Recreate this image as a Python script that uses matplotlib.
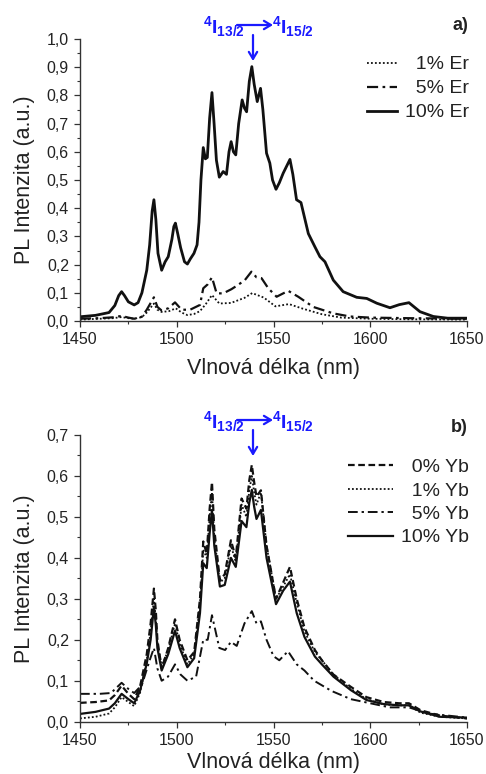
import matplotlib
matplotlib.use("Agg")
import matplotlib.pyplot as plt
from matplotlib.ticker import MultipleLocator, FuncFormatter

plt.rcParams['font.family'] = ['Liberation Sans', 'DejaVu Sans']
plt.rcParams['mathtext.fontset'] = 'custom'
plt.rcParams['mathtext.rm'] = 'Liberation Sans'
plt.rcParams['mathtext.bf'] = 'Liberation Sans:bold'

# ---------------- Panel a) data ----------------
wl_a10 = [1450, 1458, 1465, 1468, 1470, 1471.5, 1473, 1475, 1478, 1480,
          1482, 1484.5, 1486, 1487.3, 1488.2, 1489.2, 1490.3, 1492.2, 1494, 1495.6,
          1497.5, 1498.5, 1499.3, 1500.5, 1502, 1504, 1505.5, 1507, 1508.9, 1510.5,
          1511.5, 1512.5, 1513.7, 1514.8, 1515.8, 1517, 1518.2, 1519.3, 1520.5, 1522,
          1524, 1525.7, 1527, 1528.1, 1529.3, 1530.5, 1532, 1533.8, 1535, 1536.1,
          1537.5, 1538.8, 1540, 1541.6, 1543.3, 1544.5, 1546.4, 1548.1, 1549.5, 1551.3,
          1553, 1555, 1558.5, 1560, 1561.9, 1564.2, 1568, 1571.4, 1574, 1576.6,
          1580.9, 1586, 1593, 1598.2, 1603.4, 1610.2, 1615, 1620, 1625.7, 1632.6,
          1640, 1650]
er10 = [0.015, 0.02, 0.03, 0.055, 0.09, 0.104, 0.09, 0.068, 0.057, 0.065,
        0.1, 0.18, 0.27, 0.39, 0.43, 0.36, 0.24, 0.18, 0.21, 0.228,
        0.29, 0.335, 0.347, 0.31, 0.26, 0.21, 0.202, 0.22, 0.24, 0.27,
        0.35, 0.5, 0.615, 0.575, 0.58, 0.72, 0.81, 0.7, 0.57, 0.51,
        0.53, 0.52, 0.6, 0.636, 0.6, 0.589, 0.7, 0.784, 0.755, 0.742,
        0.85, 0.902, 0.84, 0.778, 0.825, 0.75, 0.595, 0.56, 0.5, 0.467,
        0.49, 0.524, 0.573, 0.52, 0.43, 0.42, 0.31, 0.263, 0.228, 0.21,
        0.145, 0.104, 0.084, 0.08, 0.063, 0.047, 0.058, 0.065, 0.033, 0.016,
        0.01, 0.01]

wl_a5 = [1450, 1460, 1467, 1471.5, 1475, 1478, 1482, 1484.5, 1488.2, 1490,
         1492.2, 1495.6, 1499.1, 1502.5, 1506.9, 1512, 1513.7, 1516, 1518.2, 1520.6,
         1524, 1528.3, 1531.7, 1535.2, 1538.6, 1541.2, 1543.8, 1547.3, 1551.6, 1557.6,
         1562.8, 1570.5, 1580.9, 1589.5, 1600, 1620, 1650]
er5 = [0.008, 0.01, 0.013, 0.018, 0.012, 0.008, 0.015, 0.04, 0.084, 0.05,
       0.037, 0.045, 0.066, 0.04, 0.04, 0.057, 0.116, 0.13, 0.155, 0.098,
       0.098, 0.113, 0.128, 0.145, 0.175, 0.155, 0.152, 0.116, 0.086, 0.107,
       0.086, 0.05, 0.027, 0.016, 0.012, 0.01, 0.008]

wl_a1 = [1450, 1460, 1467, 1471.5, 1475, 1478, 1482, 1484.5, 1488.2, 1490,
         1492.2, 1496, 1499.5, 1502.5, 1505.5, 1509, 1512, 1515, 1518.2, 1522,
         1528, 1535, 1539, 1545, 1551, 1558, 1565, 1575, 1585, 1600,
         1620, 1650]
er1 = [0.005, 0.008, 0.01, 0.014, 0.01, 0.008, 0.014, 0.03, 0.062, 0.04,
       0.032, 0.035, 0.045, 0.03, 0.021, 0.025, 0.035, 0.06, 0.092, 0.062,
       0.064, 0.082, 0.099, 0.083, 0.052, 0.06, 0.044, 0.024, 0.012, 0.008,
       0.006, 0.005]

# ---------------- Panel b) data ----------------
wl_b = [1450, 1458, 1465, 1468, 1471.5, 1475, 1478, 1481, 1484.5, 1486.5,
        1488.2, 1489.2, 1490, 1492.2, 1495.6, 1499.1, 1501.5, 1505.5, 1509, 1512,
        1513.7, 1515.5, 1517, 1518.2, 1519.4, 1522.3, 1524.8, 1528, 1530.5, 1533.5,
        1536, 1537.5, 1538.8, 1540, 1541.2, 1543.5, 1546.4, 1551.3, 1555, 1558.5,
        1562, 1566, 1571.4, 1575, 1581, 1590, 1598, 1607, 1615, 1620,
        1626, 1636, 1650]
yb0 = [0.046, 0.048, 0.052, 0.065, 0.088, 0.068, 0.055, 0.085, 0.165, 0.24,
       0.325, 0.27, 0.2, 0.13, 0.18, 0.25, 0.2, 0.15, 0.17, 0.3,
       0.44, 0.41, 0.52, 0.585, 0.47, 0.345, 0.36, 0.443, 0.4, 0.545,
       0.52, 0.59, 0.627, 0.585, 0.55, 0.565, 0.43, 0.3, 0.34, 0.378,
       0.3, 0.23, 0.175, 0.15, 0.115, 0.085, 0.06, 0.048, 0.045, 0.045,
       0.028, 0.015, 0.008]
yb1 = [0.008, 0.012, 0.02, 0.035, 0.06, 0.048, 0.038, 0.07, 0.15, 0.22,
       0.3, 0.25, 0.19, 0.135, 0.175, 0.24, 0.19, 0.14, 0.165, 0.285,
       0.42, 0.4, 0.5, 0.56, 0.45, 0.34, 0.35, 0.43, 0.39, 0.53,
       0.5, 0.565, 0.6, 0.56, 0.53, 0.56, 0.43, 0.3, 0.33, 0.36,
       0.29, 0.22, 0.17, 0.15, 0.115, 0.08, 0.055, 0.042, 0.04, 0.04,
       0.022, 0.012, 0.008]
yb10 = [0.019, 0.024, 0.032, 0.045, 0.068, 0.055, 0.045, 0.075, 0.142, 0.2,
        0.28, 0.235, 0.18, 0.125, 0.165, 0.222, 0.18, 0.133, 0.155, 0.265,
        0.387, 0.375, 0.46, 0.517, 0.43, 0.33, 0.334, 0.4, 0.378, 0.49,
        0.475, 0.535, 0.566, 0.525, 0.495, 0.517, 0.4, 0.287, 0.32, 0.342,
        0.265, 0.207, 0.159, 0.14, 0.11, 0.077, 0.053, 0.043, 0.04, 0.04,
        0.025, 0.012, 0.01]
wl_b5 = [1450, 1460, 1466, 1471.5, 1475, 1478, 1482, 1486, 1488.2, 1490,
         1492.2, 1495.5, 1499.1, 1502, 1505.5, 1510, 1513.7, 1516, 1518.2, 1522,
         1525, 1528, 1531, 1535, 1538.8, 1541.2, 1543.5, 1546.4, 1550, 1553,
         1557.5, 1562, 1566, 1571, 1580, 1590, 1600, 1610, 1620, 1630,
         1650]
yb5 = [0.068, 0.068, 0.07, 0.095, 0.08, 0.07, 0.09, 0.15, 0.18, 0.13,
       0.1, 0.11, 0.14, 0.115, 0.1, 0.11, 0.2, 0.2, 0.26, 0.18,
       0.175, 0.195, 0.185, 0.24, 0.27, 0.24, 0.245, 0.2, 0.16, 0.15,
       0.172, 0.14, 0.125, 0.1, 0.075, 0.055, 0.045, 0.035, 0.035, 0.02,
       0.01]

labels_a = ['  1% Er', '  5% Er', '10% Er']
labels_b = ['  0% Yb', '  1% Yb', '  5% Yb', '10% Yb']
xlabel = 'Vlnová délka (nm)'
ylabel = 'PL Intenzita (a.u.)'

W, H = 486, 774
fig = plt.figure(figsize=(W / 100, H / 100), dpi=100)
txtc = '#222222'
blue = '#1a1aff'


def fmt(v, pos):
    return f'{v:.1f}'.replace('.', ',')


def style(ax, ymax, ymaj):
    ax.set_xlim(1450, 1650)
    ax.set_ylim(0, ymax)
    for s in ['top', 'right']:
        ax.spines[s].set_visible(False)
    for s in ['left', 'bottom']:
        ax.spines[s].set_color('#333333')
        ax.spines[s].set_linewidth(1.0)
    ax.xaxis.set_major_locator(MultipleLocator(50))
    ax.xaxis.set_minor_locator(MultipleLocator(25))
    ax.yaxis.set_major_locator(MultipleLocator(ymaj))
    ax.yaxis.set_minor_locator(MultipleLocator(ymaj / 2))
    ax.yaxis.set_major_formatter(FuncFormatter(fmt))
    ax.tick_params(which='major', direction='out', length=4, width=0.9,
                   labelsize=11.5, colors='#333333', labelcolor=txtc, pad=4)
    ax.tick_params(which='minor', direction='out', length=2.5, width=0.8,
                   colors='#333333')
    ax.set_xlabel(xlabel, fontsize=15.5, color=txtc, va='top')
    ax.set_ylabel(ylabel, fontsize=15.5, color=txtc)


def px(x, y):
    return (x / W, 1 - y / H)


def annot(dy):
    fig.text(*px(203, 33 + dy), r'$\mathbf{{}^{4}I_{13/2}}$', color=blue,
             fontsize=14, va='baseline', ha='left')
    fig.text(*px(272, 33 + dy), r'$\mathbf{{}^{4}I_{15/2}}$', color=blue,
             fontsize=14, va='baseline', ha='left')
    fig.add_artist(matplotlib.patches.FancyArrowPatch(
        px(237, 25 + dy), px(273, 25 + dy), transform=fig.transFigure,
        arrowstyle='->,head_length=5,head_width=3', color=blue, lw=1.6,
        shrinkA=0, shrinkB=0))
    fig.add_artist(matplotlib.patches.FancyArrowPatch(
        px(253, 35 + dy), px(253, 61 + dy), transform=fig.transFigure,
        arrowstyle='->,head_length=5,head_width=3', color=blue, lw=1.6,
        shrinkA=0, shrinkB=0))


# Panel a
axa = fig.add_axes([80 / W, 1 - 321 / H, 387 / W, 282 / H])
la1, = axa.plot(wl_a1, er1, color='#111111', lw=1.3, ls=(0, (1, 1.2)))
la5, = axa.plot(wl_a5, er5, color='#111111', lw=1.6, ls=(0, (5, 2, 1.2, 2)))
la10, = axa.plot(wl_a10, er10, color='#111111', lw=2.0, ls='-')
style(axa, 1.0, 0.1)
axa.yaxis.set_label_coords(-0.115, 0.5)
axa.xaxis.set_label_coords(0.5, -0.13)
leg = axa.legend([la1, la5, la10], labels_a, loc='upper right',
                 bbox_to_anchor=(1.025, 0.968), frameon=False, fontsize=14,
                 handlelength=1.55, handletextpad=0.4, labelspacing=0.33,
                 borderaxespad=0)
for t in leg.get_texts():
    t.set_color(txtc)
fig.text(*px(468, 25), 'a)', fontsize=13, fontweight='bold', color=txtc,
         ha='right', va='center')
annot(0)

# Panel b
axb = fig.add_axes([80 / W, 1 - 721.7 / H, 387 / W, 286.7 / H])
lb0, = axb.plot(wl_b, yb0, color='#111111', lw=1.6, ls=(0, (3, 1.6)))
lb1, = axb.plot(wl_b, yb1, color='#111111', lw=1.3, ls=(0, (1, 1.2)))
lb5, = axb.plot(wl_b5, yb5, color='#111111', lw=1.4, ls=(0, (5, 2, 1.2, 2)))
lb10, = axb.plot(wl_b, yb10, color='#111111', lw=1.6, ls='-')
style(axb, 0.7, 0.1)
axb.yaxis.set_label_coords(-0.115, 0.5)
axb.xaxis.set_label_coords(0.5, -0.105)
legb = axb.legend([lb0, lb1, lb5, lb10], labels_b, loc='upper right',
                  bbox_to_anchor=(1.025, 0.945), frameon=False, fontsize=14,
                  handlelength=2.3, handletextpad=0.4, labelspacing=0.3,
                  borderaxespad=0)
for t in legb.get_texts():
    t.set_color(txtc)
fig.text(*px(468, 428), 'b)', fontsize=13, fontweight='bold', color=txtc,
         ha='right', va='center')
annot(395)

fig.savefig('out.png', dpi=100)
